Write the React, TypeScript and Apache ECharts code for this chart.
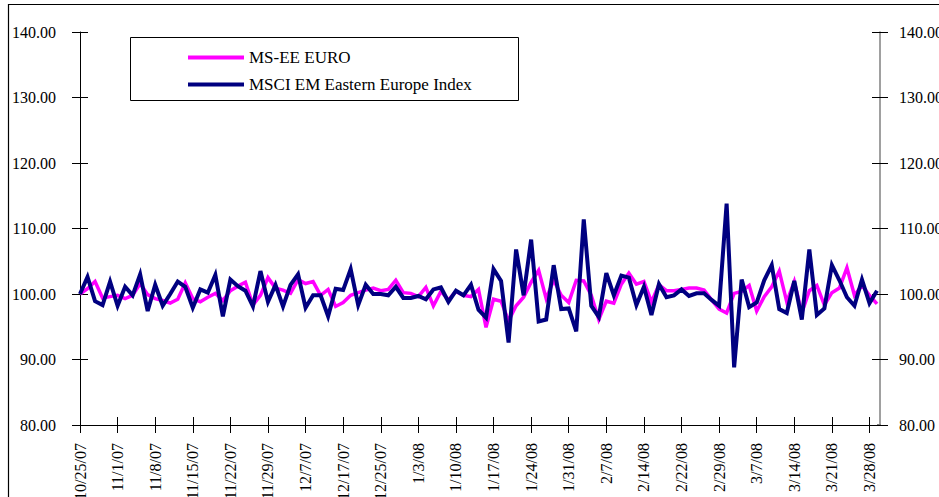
import React, { useEffect, useRef } from "react";
import * as echarts from "echarts";

const dates: string[] = [
  "10/25/07", "10/26/07", "10/29/07", "10/30/07", "10/31/07",
  "11/1/07", "11/2/07", "11/5/07", "11/6/07", "11/7/07",
  "11/8/07", "11/9/07", "11/12/07", "11/13/07", "11/14/07",
  "11/15/07", "11/16/07", "11/19/07", "11/20/07", "11/21/07",
  "11/22/07", "11/23/07", "11/26/07", "11/27/07", "11/28/07",
  "11/29/07", "11/30/07", "12/4/07", "12/5/07", "12/6/07",
  "12/7/07", "12/10/07", "12/11/07", "12/13/07", "12/14/07",
  "12/17/07", "12/18/07", "12/19/07", "12/20/07", "12/21/07",
  "12/25/07", "12/27/07", "12/28/07", "12/31/07", "1/2/08",
  "1/3/08", "1/4/08", "1/7/08", "1/8/08", "1/9/08",
  "1/10/08", "1/11/08", "1/14/08", "1/15/08", "1/16/08",
  "1/17/08", "1/18/08", "1/21/08", "1/22/08", "1/23/08",
  "1/24/08", "1/25/08", "1/28/08", "1/29/08", "1/30/08",
  "1/31/08", "2/1/08", "2/4/08", "2/5/08", "2/6/08",
  "2/7/08", "2/8/08", "2/11/08", "2/12/08", "2/13/08",
  "2/14/08", "2/15/08", "2/19/08", "2/20/08", "2/21/08",
  "2/22/08", "2/25/08", "2/26/08", "2/27/08", "2/28/08",
  "2/29/08", "3/3/08", "3/4/08", "3/5/08", "3/6/08",
  "3/7/08", "3/10/08", "3/11/08", "3/12/08", "3/13/08",
  "3/14/08", "3/17/08", "3/18/08", "3/19/08", "3/20/08",
  "3/21/08", "3/24/08", "3/25/08", "3/26/08", "3/27/08",
  "3/28/08", "3/31/08",
];

const msEeEuro: number[] = [
  100.0, 100.8, 101.9, 99.4, 99.6, 99.8, 99.3, 99.8, 101.6, 99.9,
  99.3, 99.0, 98.6, 99.2, 101.7, 99.3, 98.8, 99.5, 100.1, 99.0,
  100.5, 101.2, 101.8, 98.3, 99.8, 102.5, 100.9, 100.6, 100.1, 102.2,
  101.6, 101.9, 99.8, 100.7, 98.1, 98.7, 99.8, 100.2, 100.6, 100.9,
  100.5, 100.7, 102.1, 100.2, 100.1, 99.6, 101.0, 98.2, 100.4, 99.1,
  100.4, 99.8, 99.6, 100.7, 94.9, 99.2, 98.9, 95.9, 98.2, 99.5,
  101.8, 103.6, 99.3, 102.1, 99.8, 98.7, 102.1, 102.0, 99.8, 96.1,
  98.9, 98.6, 101.5, 103.2, 101.5, 101.9, 98.8, 101.4, 100.5, 100.5,
  100.7, 100.9, 100.9, 100.6, 99.1, 97.7, 97.1, 100.1, 100.4, 101.3,
  97.4, 99.6, 101.1, 103.5, 98.8, 101.9, 97.1, 100.5, 101.3, 98.3,
  100.2, 100.9, 104.0, 99.8, 101.3, 99.8, 98.5,
];

const msciEmEasternEurope: number[] = [
  100.0, 102.6, 98.9, 98.3, 101.9, 98.2, 101.1, 99.8, 103.0, 97.4,
  101.4, 98.2, 100.0, 101.9, 101.1, 97.9, 100.7, 100.2, 102.9, 96.6,
  102.2, 101.2, 100.5, 98.1, 103.5, 98.8, 101.4, 98.1, 101.4, 103.0,
  97.9, 99.8, 99.8, 96.6, 100.8, 100.6, 103.8, 98.3, 101.4, 100.0,
  100.0, 99.8, 101.1, 99.4, 99.4, 99.7, 99.2, 100.7, 101.0, 98.8,
  100.5, 99.8, 101.4, 97.6, 96.4, 103.8, 102.0, 92.6, 106.8, 99.8,
  108.3, 95.8, 96.1, 104.4, 97.7, 97.8, 94.3, 111.4, 98.2, 96.5,
  103.2, 99.8, 102.8, 102.5, 98.3, 101.1, 96.8, 101.5, 99.5, 99.8,
  100.7, 99.7, 100.1, 100.1, 99.1, 98.2, 113.8, 88.8, 102.2, 98.0,
  98.7, 102.1, 104.4, 97.7, 97.1, 102.0, 96.1, 106.8, 96.8, 97.8,
  104.4, 102.1, 99.5, 98.2, 102.2, 98.6, 100.5,
];

const seriesNames: string[] = ["MS-EE EURO", "MSCI EM Eastern Europe Index"];

const FONT = "'Liberation Serif', 'Times New Roman', serif";

export default function App() {
  const ref = useRef<HTMLDivElement>(null);

  useEffect(() => {
    if (!ref.current) return;
    const chart = echarts.init(ref.current, undefined, { renderer: "svg" });

    const yBase = {
      type: "value" as const,
      min: 80,
      max: 140,
      interval: 10,
      splitLine: { show: false },
    };

    const labelStyle = {
      fontFamily: FONT,
      fontSize: 16,
      color: "#000",
    };

    chart.setOption({
      animation: false,
      backgroundColor: "#fff",
      grid: {
        left: 80,
        right: 62,
        top: 32,
        bottom: 72,
        containLabel: false,
        outerBoundsMode: "none",
      },
      legend: {
        orient: "vertical",
        left: 183,
        top: 44,
        icon: "rect",
        itemWidth: 56,
        itemHeight: 4,
        itemGap: 10,
        selectedMode: false,
        data: seriesNames,
        textStyle: { fontFamily: FONT, fontSize: 17, color: "#000", lineHeight: 16 },
      },
      xAxis: [
        {
          type: "category",
          data: dates,
          boundaryGap: false,
          position: "bottom",
          axisLine: { show: true, lineStyle: { color: "#000", width: 1 } },
          axisTick: {
            show: true,
            interval: 4,
            length: 8,
            inside: false,
            lineStyle: { color: "#000" },
          },
          axisLabel: {
            interval: 4,
            rotate: 90,
            margin: 18,
            padding: [10, 0, 0, 0],
            ...labelStyle,
          },
          splitLine: { show: false },
        },
        {
          type: "category",
          data: dates,
          boundaryGap: false,
          position: "bottom",
          axisLine: { show: false },
          axisTick: {
            show: true,
            interval: 4,
            length: 8,
            inside: true,
            lineStyle: { color: "#000" },
          },
          axisLabel: { show: false },
          splitLine: { show: false },
        },
      ],
      yAxis: [
        {
          ...yBase,
          position: "left",
          axisLine: { show: true, lineStyle: { color: "#000", width: 1 } },
          axisTick: { show: true, length: 8, inside: false, lineStyle: { color: "#000" } },
          axisLabel: {
            margin: 24,
            formatter: (v: number) => v.toFixed(2),
            ...labelStyle,
          },
        },
        {
          ...yBase,
          position: "left",
          axisLine: { show: false },
          axisTick: { show: true, length: 8, inside: true, lineStyle: { color: "#000" } },
          axisLabel: { show: false },
        },
        {
          ...yBase,
          position: "right",
          offset: 3,
          axisLine: { show: true, lineStyle: { color: "#808080", width: 1.5 } },
          axisTick: { show: true, length: 8, inside: false, lineStyle: { color: "#000" } },
          axisLabel: {
            margin: 19,
            formatter: (v: number) => v.toFixed(2),
            ...labelStyle,
          },
        },
        {
          ...yBase,
          position: "right",
          offset: 3,
          axisLine: { show: false },
          axisTick: { show: true, length: 8, inside: true, lineStyle: { color: "#000" } },
          axisLabel: { show: false },
        },
      ],
      graphic: [
        {
          type: "rect",
          silent: true,
          shape: { x: 8.5, y: 4.5, width: 940, height: 500 },
          style: { fill: "none", stroke: "#000", lineWidth: 1.2 },
        },
        {
          type: "rect",
          silent: true,
          shape: { x: 130.5, y: 37.5, width: 388, height: 63 },
          style: { fill: "none", stroke: "#000", lineWidth: 1 },
        },
        {
          type: "line",
          silent: true,
          shape: { x1: 877, y1: 425, x2: 881, y2: 425 },
          style: { stroke: "#000", lineWidth: 1 },
        },
      ],
      series: [
        {
          name: seriesNames[0],
          type: "line",
          data: msEeEuro,
          xAxisIndex: 0,
          yAxisIndex: 0,
          symbol: "none",
          showSymbol: false,
          color: "#FF00FF",
          lineStyle: { color: "#FF00FF", width: 3.5, join: "miter" },
          z: 2,
        },
        {
          name: seriesNames[1],
          type: "line",
          data: msciEmEasternEurope,
          xAxisIndex: 0,
          yAxisIndex: 0,
          symbol: "none",
          showSymbol: false,
          color: "#000080",
          lineStyle: { color: "#000080", width: 4, join: "miter" },
          z: 3,
        },
      ],
    });

    return () => {
      chart.dispose();
    };
  }, []);

  return (
    <div
      ref={ref}
      style={{ position: "absolute", left: 0, top: 0, width: 939, height: 497 }}
    />
  );
}
